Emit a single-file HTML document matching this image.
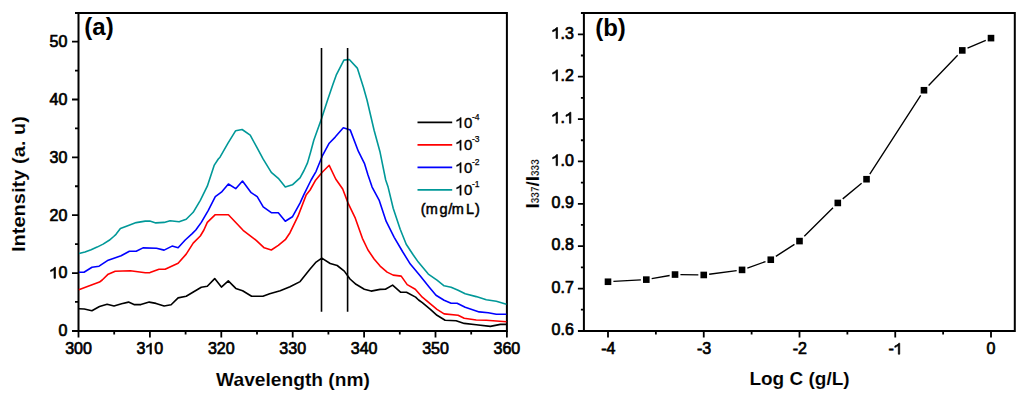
<!DOCTYPE html><html><head><meta charset="utf-8"><style>html,body{margin:0;padding:0;background:#fff;width:1024px;height:398px;overflow:hidden}svg{display:block}text{font-family:"Liberation Sans",sans-serif;fill:#000}.t{font-size:16px;stroke:#000;stroke-width:0.7px}.b{font-weight:bold;stroke:#fff;stroke-width:0.1px}.bb{font-weight:bold}</style></head><body>
<svg width="1024" height="398" viewBox="0 0 1024 398">
<path d="M75,12.9 H506.9 V330.9 H72 M78.5,12.9 V330.9" fill="none" stroke="#000" stroke-width="2"/>
<path d="M72,330.90H78.5 M75,301.97H78.5 M72,273.05H78.5 M75,244.12H78.5 M72,215.20H78.5 M75,186.27H78.5 M72,157.35H78.5 M75,128.42H78.5 M72,99.50H78.5 M75,70.57H78.5 M72,41.65H78.5 M78.50,330.9V337.4 M114.20,330.9V334.4 M149.90,330.9V337.4 M185.60,330.9V334.4 M221.30,330.9V337.4 M257.00,330.9V334.4 M292.70,330.9V337.4 M328.40,330.9V334.4 M364.10,330.9V337.4 M399.80,330.9V334.4 M435.50,330.9V337.4 M471.20,330.9V334.4 M506.90,330.9V337.4" fill="none" stroke="#000" stroke-width="1.8"/>
<text x="58.40" y="336.20" font-size="16" stroke="#000" stroke-width="0.7" >0</text>
<text x="49.50" y="278.35" font-size="16" stroke="#000" stroke-width="0.7" > 0</text>
<path d="M763,0L583,0L583,1100Q400,960 140,870L140,1050Q420,1160 560,1300Q610,1360 640,1409L763,1409Z" transform="translate(49.50,278.35) scale(0.007812,-0.007812)" fill="#000" stroke="#000" stroke-width="0.7" vector-effect="non-scaling-stroke"/>
<text x="49.50" y="220.50" font-size="16" stroke="#000" stroke-width="0.7" >20</text>
<text x="49.50" y="162.65" font-size="16" stroke="#000" stroke-width="0.7" >30</text>
<text x="49.50" y="104.80" font-size="16" stroke="#000" stroke-width="0.7" >40</text>
<text x="49.50" y="46.95" font-size="16" stroke="#000" stroke-width="0.7" >50</text>
<text x="65.15" y="354.20" font-size="16" stroke="#000" stroke-width="0.7" >300</text>
<text x="136.55" y="354.20" font-size="16" stroke="#000" stroke-width="0.7" >3 0</text>
<path d="M763,0L583,0L583,1100Q400,960 140,870L140,1050Q420,1160 560,1300Q610,1360 640,1409L763,1409Z" transform="translate(145.45,354.20) scale(0.007812,-0.007812)" fill="#000" stroke="#000" stroke-width="0.7" vector-effect="non-scaling-stroke"/>
<text x="207.95" y="354.20" font-size="16" stroke="#000" stroke-width="0.7" >320</text>
<text x="279.35" y="354.20" font-size="16" stroke="#000" stroke-width="0.7" >330</text>
<text x="350.75" y="354.20" font-size="16" stroke="#000" stroke-width="0.7" >340</text>
<text x="422.15" y="354.20" font-size="16" stroke="#000" stroke-width="0.7" >350</text>
<text x="493.55" y="354.20" font-size="16" stroke="#000" stroke-width="0.7" >360</text>
<text class="b" x="293" y="385.5" font-size="19" text-anchor="middle" textLength="153.8" lengthAdjust="spacingAndGlyphs">Wavelength (nm)</text>
<text class="b" transform="translate(24.6,184.1) rotate(-90)" font-size="19" text-anchor="middle" textLength="136" lengthAdjust="spacingAndGlyphs">Intensity (a. u)</text>
<text class="bb" x="84.3" y="35.2" font-size="24">(a)</text>
<polyline points="78.8,308.7 84.3,309.0 91.9,310.7 99.5,306.5 107.1,304.2 114.0,306.0 121.6,303.8 128.5,302.1 134.0,304.6 140.9,304.6 149.2,302.1 156.0,303.4 164.1,306.0 171.1,304.8 178.1,297.9 186.2,296.3 201.3,287.3 207.3,286.3 214.7,278.6 221.4,287.1 228.3,280.9 235.8,288.4 242.6,290.7 251.6,296.2 262.9,296.2 269.7,293.7 280.2,290.7 290.0,286.8 300.1,281.6 310.1,269.1 316.1,262.1 321.8,258.1 330.2,263.5 337.2,265.5 344.3,271.1 350.0,279.0 356.0,284.3 364.3,289.2 371.1,291.1 380.1,289.4 385.4,289.2 392.6,285.1 400.5,292.2 406.5,292.2 415.6,297.1 418.6,300.0 422.3,302.7 430.4,309.3 437.0,315.3 445.1,320.3 456.1,320.8 464.2,323.4 476.2,324.8 490.3,326.4 500.4,324.4 506.4,324.4" fill="none" stroke="#000000" stroke-width="1.6" stroke-linejoin="round"/>
<polyline points="78.8,289.7 88.1,286.3 99.5,282.1 102.2,280.0 108.2,274.2 115.2,271.2 130.3,270.8 145.3,272.8 150.0,272.6 159.0,269.2 165.1,269.2 178.1,263.2 186.2,254.1 193.2,243.1 200.3,236.0 203.9,230.0 207.3,222.4 215.3,214.7 228.4,214.8 234.1,220.8 243.1,230.3 256.2,240.3 264.2,247.8 271.3,250.0 278.3,245.4 285.3,239.7 290.0,232.7 298.0,216.2 306.1,195.1 310.1,190.0 315.6,180.2 322.2,172.3 329.2,165.3 335.7,179.0 342.7,189.0 348.3,203.7 355.3,218.2 362.4,238.3 368.0,250.0 374.1,259.0 380.1,266.1 387.1,272.1 393.2,275.1 401.2,276.1 407.2,284.6 415.3,289.2 422.3,297.2 430.4,303.9 437.0,309.3 444.1,313.9 458.1,315.3 464.2,318.3 476.2,320.0 486.3,320.3 506.4,321.8" fill="none" stroke="#ff0000" stroke-width="1.6" stroke-linejoin="round"/>
<polyline points="79.0,272.2 84.0,272.2 92.0,267.2 99.1,266.2 108.2,260.2 121.1,255.8 129.4,251.3 136.2,251.3 143.0,247.9 156.5,248.2 164.1,250.1 172.1,246.1 178.1,247.7 185.2,240.0 192.2,233.6 195.8,230.0 201.3,222.4 208.3,210.3 215.3,196.6 221.4,192.2 228.4,184.0 235.7,188.7 242.5,181.0 251.2,192.7 257.2,196.7 263.2,206.8 271.3,212.6 278.3,212.8 285.3,221.2 292.4,216.8 300.0,203.1 304.1,194.1 311.1,180.0 316.1,171.3 322.2,156.2 329.2,143.2 335.2,137.1 343.3,127.7 350.3,130.1 358.3,151.2 364.4,163.3 368.0,175.0 372.1,187.1 379.1,200.1 386.1,221.2 394.2,237.3 402.5,251.5 410.3,264.1 420.3,276.1 429.3,287.2 436.0,295.2 444.1,300.3 451.1,303.3 457.1,303.3 465.2,307.3 479.2,311.9 488.3,312.7 496.3,314.3 506.4,314.3" fill="none" stroke="#0000ff" stroke-width="1.6" stroke-linejoin="round"/>
<polyline points="79.0,253.5 85.0,252.0 91.1,249.7 97.1,247.1 103.1,244.1 109.2,240.3 113.7,236.5 116.0,234.3 120.4,228.6 127.1,225.9 136.2,222.6 145.2,221.1 149.8,221.1 155.8,222.9 164.1,222.4 170.1,220.8 179.1,221.8 186.2,219.3 193.2,212.3 200.3,200.3 207.3,186.2 214.3,165.1 218.3,159.0 220.0,157.2 228.0,143.2 235.7,130.7 242.1,129.5 250.2,135.1 256.2,146.2 263.2,159.2 271.3,172.3 278.3,178.3 285.3,187.0 292.4,184.8 300.0,177.8 304.0,170.5 307.5,162.9 310.5,152.5 313.8,140.3 321.4,118.9 327.6,100.1 332.7,85.0 336.2,75.2 343.9,60.1 349.3,59.5 357.3,68.1 363.4,87.2 367.0,100.0 374.1,130.2 380.1,152.3 385.7,180.0 388.1,187.1 393.2,208.2 400.2,229.3 406.2,244.3 413.3,255.0 418.3,262.1 428.3,274.1 437.0,280.2 444.1,285.8 451.1,287.2 458.1,290.2 465.2,293.8 476.2,296.6 486.3,299.8 496.3,301.3 506.4,304.3" fill="none" stroke="#009898" stroke-width="1.6" stroke-linejoin="round"/>
<path d="M321.5,48V311.7 M347.6,48V311.7" stroke="#000" stroke-width="1.6"/>
<line x1="417.5" y1="122.4" x2="452.2" y2="122.4" stroke="#000000" stroke-width="1.9"/>
<text x="455.60" y="127.80" font-size="15" stroke="#000" stroke-width="0.4" > 0</text>
<path d="M763,0L583,0L583,1100Q400,960 140,870L140,1050Q420,1160 560,1300Q610,1360 640,1409L763,1409Z" transform="translate(455.60,127.80) scale(0.007324,-0.007324)" fill="#000" stroke="#000" stroke-width="0.4" vector-effect="non-scaling-stroke"/>
<text x="472" y="119.5" font-size="8.5" stroke="#000" stroke-width="0.25">-4</text>
<line x1="417.5" y1="144.9" x2="452.2" y2="144.9" stroke="#ff0000" stroke-width="1.9"/>
<text x="455.60" y="150.30" font-size="15" stroke="#000" stroke-width="0.4" > 0</text>
<path d="M763,0L583,0L583,1100Q400,960 140,870L140,1050Q420,1160 560,1300Q610,1360 640,1409L763,1409Z" transform="translate(455.60,150.30) scale(0.007324,-0.007324)" fill="#000" stroke="#000" stroke-width="0.4" vector-effect="non-scaling-stroke"/>
<text x="472" y="142.0" font-size="8.5" stroke="#000" stroke-width="0.25">-3</text>
<line x1="417.5" y1="167.4" x2="452.2" y2="167.4" stroke="#0000ff" stroke-width="1.9"/>
<text x="455.60" y="172.80" font-size="15" stroke="#000" stroke-width="0.4" > 0</text>
<path d="M763,0L583,0L583,1100Q400,960 140,870L140,1050Q420,1160 560,1300Q610,1360 640,1409L763,1409Z" transform="translate(455.60,172.80) scale(0.007324,-0.007324)" fill="#000" stroke="#000" stroke-width="0.4" vector-effect="non-scaling-stroke"/>
<text x="472" y="164.5" font-size="8.5" stroke="#000" stroke-width="0.25">-2</text>
<line x1="417.5" y1="189.9" x2="452.2" y2="189.9" stroke="#009898" stroke-width="1.9"/>
<text x="455.60" y="195.30" font-size="15" stroke="#000" stroke-width="0.4" > 0</text>
<path d="M763,0L583,0L583,1100Q400,960 140,870L140,1050Q420,1160 560,1300Q610,1360 640,1409L763,1409Z" transform="translate(455.60,195.30) scale(0.007324,-0.007324)" fill="#000" stroke="#000" stroke-width="0.4" vector-effect="non-scaling-stroke"/>
<text x="472" y="187.0" font-size="8.5" stroke="#000" stroke-width="0.25">-1</text>
<text x="420.8 425.85 439.5 448.3 451.85 466.04 475" y="214" font-size="14.5" stroke="#000" stroke-width="0.5">(mg/mL)</text>
<path d="M581,13.0 H1014.8 V330.9 H578 M583.9,13.0 V330.9" fill="none" stroke="#000" stroke-width="2"/>
<path d="M577.90,330.90H583.9 M580.90,309.71H583.9 M577.90,288.53H583.9 M580.90,267.34H583.9 M577.90,246.16H583.9 M580.90,224.97H583.9 M577.90,203.79H583.9 M580.90,182.60H583.9 M577.90,161.42H583.9 M580.90,140.23H583.9 M577.90,119.05H583.9 M580.90,97.87H583.9 M577.90,76.68H583.9 M580.90,55.49H583.9 M577.90,34.31H583.9 M580.90,13.12H583.9 M608.00,330.9V337.4 M655.88,330.9V334.4 M703.75,330.9V337.4 M751.62,330.9V334.4 M799.50,330.9V337.4 M847.38,330.9V334.4 M895.25,330.9V337.4 M943.12,330.9V334.4 M991.00,330.9V337.4" fill="none" stroke="#000" stroke-width="1.8"/>
<text x="551.56" y="335.10" font-size="16" stroke="#000" stroke-width="0.7" >0.6</text>
<text x="551.56" y="292.73" font-size="16" stroke="#000" stroke-width="0.7" >0.7</text>
<text x="551.56" y="250.36" font-size="16" stroke="#000" stroke-width="0.7" >0.8</text>
<text x="551.56" y="207.99" font-size="16" stroke="#000" stroke-width="0.7" >0.9</text>
<text x="551.56" y="165.62" font-size="16" stroke="#000" stroke-width="0.7" > .0</text>
<path d="M763,0L583,0L583,1100Q400,960 140,870L140,1050Q420,1160 560,1300Q610,1360 640,1409L763,1409Z" transform="translate(551.56,165.62) scale(0.007812,-0.007812)" fill="#000" stroke="#000" stroke-width="0.7" vector-effect="non-scaling-stroke"/>
<text x="551.56" y="123.25" font-size="16" stroke="#000" stroke-width="0.7" > . </text>
<path d="M763,0L583,0L583,1100Q400,960 140,870L140,1050Q420,1160 560,1300Q610,1360 640,1409L763,1409Z" transform="translate(551.56,123.25) scale(0.007812,-0.007812)" fill="#000" stroke="#000" stroke-width="0.7" vector-effect="non-scaling-stroke"/>
<path d="M763,0L583,0L583,1100Q400,960 140,870L140,1050Q420,1160 560,1300Q610,1360 640,1409L763,1409Z" transform="translate(564.90,123.25) scale(0.007812,-0.007812)" fill="#000" stroke="#000" stroke-width="0.7" vector-effect="non-scaling-stroke"/>
<text x="551.56" y="80.88" font-size="16" stroke="#000" stroke-width="0.7" > .2</text>
<path d="M763,0L583,0L583,1100Q400,960 140,870L140,1050Q420,1160 560,1300Q610,1360 640,1409L763,1409Z" transform="translate(551.56,80.88) scale(0.007812,-0.007812)" fill="#000" stroke="#000" stroke-width="0.7" vector-effect="non-scaling-stroke"/>
<text x="551.56" y="38.51" font-size="16" stroke="#000" stroke-width="0.7" > .3</text>
<path d="M763,0L583,0L583,1100Q400,960 140,870L140,1050Q420,1160 560,1300Q610,1360 640,1409L763,1409Z" transform="translate(551.56,38.51) scale(0.007812,-0.007812)" fill="#000" stroke="#000" stroke-width="0.7" vector-effect="non-scaling-stroke"/>
<text x="601.19" y="354.20" font-size="16" stroke="#000" stroke-width="0.7" >-4</text>
<text x="696.94" y="354.20" font-size="16" stroke="#000" stroke-width="0.7" >-3</text>
<text x="792.69" y="354.20" font-size="16" stroke="#000" stroke-width="0.7" >-2</text>
<text x="888.44" y="354.20" font-size="16" stroke="#000" stroke-width="0.7" >- </text>
<path d="M763,0L583,0L583,1100Q400,960 140,870L140,1050Q420,1160 560,1300Q610,1360 640,1409L763,1409Z" transform="translate(893.76,354.20) scale(0.007812,-0.007812)" fill="#000" stroke="#000" stroke-width="0.7" vector-effect="non-scaling-stroke"/>
<text x="986.55" y="354.20" font-size="16" stroke="#000" stroke-width="0.7" >0</text>
<text class="b" x="799.5" y="385.4" font-size="19" text-anchor="middle">Log C (g/L)</text>
<text class="b" transform="translate(539,208.5) rotate(-90)" font-size="19">I<tspan font-size="10" stroke-width="0.2">337</tspan>/I<tspan font-size="10" stroke-width="0.2">333</tspan></text>
<text class="bb" x="595.2" y="35.5" font-size="24">(b)</text>
<path d="M613.40,281.45L640.90,279.93 M651.67,278.68L669.66,275.50 M680.42,274.63L698.35,274.89 M709.13,274.26L736.67,270.60 M747.33,268.02L765.50,261.59 M775.84,256.43L794.44,244.36 M804.29,236.31L833.01,207.71 M842.72,198.88L861.61,183.28 M869.79,174.15L920.71,95.30 M928.60,85.42L957.65,55.22 M967.51,48.17L985.77,40.36" fill="none" stroke="#000" stroke-width="1.35"/>
<rect x="604.70" y="278.45" width="6.6" height="6.6" fill="#000"/>
<rect x="643.00" y="276.33" width="6.6" height="6.6" fill="#000"/>
<rect x="671.73" y="271.25" width="6.6" height="6.6" fill="#000"/>
<rect x="700.45" y="271.67" width="6.6" height="6.6" fill="#000"/>
<rect x="738.75" y="266.59" width="6.6" height="6.6" fill="#000"/>
<rect x="767.48" y="256.42" width="6.6" height="6.6" fill="#000"/>
<rect x="796.20" y="237.78" width="6.6" height="6.6" fill="#000"/>
<rect x="834.50" y="199.64" width="6.6" height="6.6" fill="#000"/>
<rect x="863.23" y="175.92" width="6.6" height="6.6" fill="#000"/>
<rect x="920.68" y="86.94" width="6.6" height="6.6" fill="#000"/>
<rect x="958.98" y="47.11" width="6.6" height="6.6" fill="#000"/>
<rect x="987.70" y="34.82" width="6.6" height="6.6" fill="#000"/>
</svg></body></html>
